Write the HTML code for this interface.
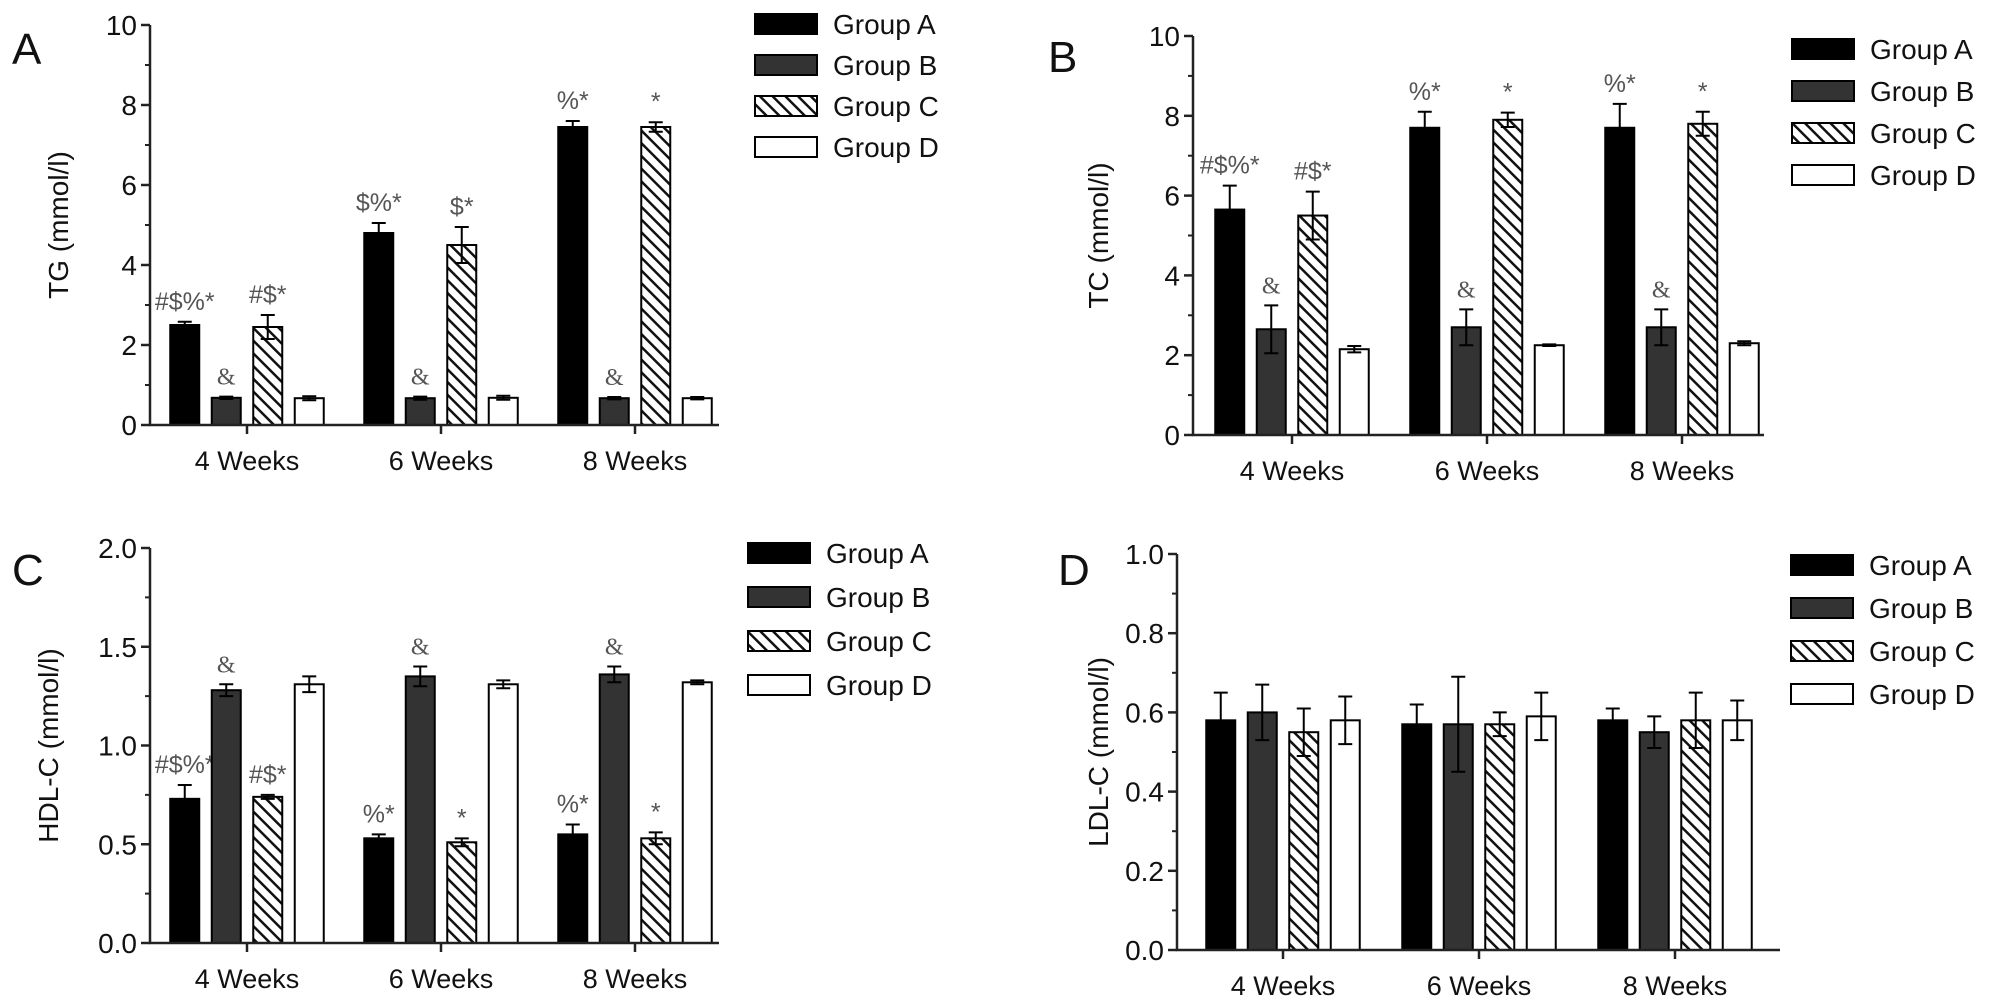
<!DOCTYPE html>
<html><head><meta charset="utf-8"><style>
html,body{margin:0;padding:0;background:#fff;}
svg{display:block;font-family:"Liberation Sans",sans-serif;}
</style></head><body>
<svg id="fig" width="2008" height="1003" viewBox="0 0 2008 1003">
<defs>
<pattern id="hatch" patternUnits="userSpaceOnUse" width="9" height="9" patternTransform="rotate(-45)">
<rect width="9" height="9" fill="#fff"/><line x1="0" y1="0" x2="0" y2="9" stroke="#111" stroke-width="5"/>
</pattern>
</defs>
</svg>
<script>
const categories = ["4 Weeks","6 Weeks","8 Weeks"];
const groups = ["Group A","Group B","Group C","Group D"];
// Panel A: TG
const tgMeans = [[2.5,0.68,2.45,0.67],[4.8,0.67,4.5,0.68],[7.45,0.67,7.45,0.67]];
const tgErr = [[0.08,0.03,0.3,0.05],[0.25,0.04,0.45,0.05],[0.15,0.03,0.12,0.03]];
const tgNotes = [["#$%*","&","#$*",""],["$%*","&","$*",""],["%*","&","*",""]];
const tgTicks = [0,2,4,6,8,10];
// Panel B: TC
const tcMeans = [[5.65,2.65,5.5,2.15],[7.7,2.7,7.9,2.25],[7.7,2.7,7.8,2.3]];
const tcErr = [[0.6,0.6,0.6,0.08],[0.4,0.45,0.18,0.02],[0.6,0.45,0.3,0.05]];
const tcNotes = [["#$%*","&","#$*",""],["%*","&","*",""],["%*","&","*",""]];
const tcTicks = [0,2,4,6,8,10];
// Panel C: HDL-C
const hdlMeans = [[0.73,1.28,0.74,1.31],[0.53,1.35,0.51,1.31],[0.55,1.36,0.53,1.32]];
const hdlErr = [[0.07,0.03,0.01,0.04],[0.02,0.05,0.02,0.02],[0.05,0.04,0.03,0.01]];
const hdlNotes = [["#$%*","&","#$*",""],["%*","&","*",""],["%*","&","*",""]];
const hdlTicks = ["0.0","0.5","1.0","1.5","2.0"];
// Panel D: LDL-C
const ldlMeans = [[0.58,0.60,0.55,0.58],[0.57,0.57,0.57,0.59],[0.58,0.55,0.58,0.58]];
const ldlErr = [[0.07,0.07,0.06,0.06],[0.05,0.12,0.03,0.06],[0.03,0.04,0.07,0.05]];
const ldlNotes = [["","","",""],["","","",""],["","","",""]];
const ldlTicks = ["0.0","0.2","0.4","0.6","0.8","1.0"];

const NS="http://www.w3.org/2000/svg";
const svg=document.getElementById('fig');
const fills=["#000","#333","url(#hatch)","#fff"];
function mk(tag,attrs,parent,txt){const e=document.createElementNS(NS,tag);for(const k in attrs)e.setAttribute(k,attrs[k]);if(txt!==undefined)e.textContent=txt;(parent||svg).appendChild(e);return e;}

function panel(cfg){
  const g=mk('g',{});
  
  
  const ymax=cfg.ymax;
  const y=v=>cfg.y0-(v/ymax)*(cfg.y0-cfg.yTop);
  const gx=i=>cfg.x0+cfg.off+cfg.step*i;
  const barW=29, barStep=41.5;
  const bx=(i,j)=>gx(i)+(j-1.5)*barStep-barW/2;
  // letter
  const L=mk('text',{x:cfg.lx,y:cfg.ly,'font-size':44,fill:'#111'},g,cfg.key.toUpperCase());
  
  
  // bars
  cfg.means.forEach((row,i)=>row.forEach((m,j)=>{
    const r=mk('rect',{x:bx(i,j),y:y(m),width:barW,height:cfg.y0-y(m),fill:fills[j],stroke:'#000','stroke-width':2},g);
    
    
    const cx=bx(i,j)+barW/2, e=cfg.err[i][j];
    const eb=mk('path',{d:`M${cx},${y(m-e)}V${y(m+e)}M${cx-7},${y(m+e)}H${cx+7}M${cx-7},${y(m-e)}H${cx+7}`,stroke:'#000','stroke-width':2,fill:'none'},g);
    
    
    const n=cfg.notes[i][j];
    if(n){
      const t=mk('text',{x:cx,y:y(m+e)-12,'text-anchor':'middle','font-size':n==='&'?24:25,fill:'#555','font-family':n==='&'?'"Liberation Serif",serif':'"Liberation Sans",sans-serif'},g,n);
      
      
    }
  }));
  // axes
  const ax=mk('path',{d:`M${cfg.x0},${cfg.yTop}V${cfg.y0}H${cfg.x1}`,stroke:'#222','stroke-width':2.5,fill:'none'},g);
  
  
  const nT=cfg.ticks.length-1;
  cfg.ticks.forEach((lab,k)=>{
    const v=ymax*k/nT, yy=y(v);
    mk('line',{x1:cfg.x0-9,x2:cfg.x0,y1:yy,y2:yy,stroke:'#222','stroke-width':2.5},g);
    if(k<nT){const ym=y(v+ymax/nT/2);mk('line',{x1:cfg.x0-5,x2:cfg.x0,y1:ym,y2:ym,stroke:'#222','stroke-width':2},g);}
    const t=mk('text',{x:cfg.x0-13,y:yy+10,'text-anchor':'end','font-size':28,fill:'#111'},g,lab);
    
    
  });
  categories.forEach((c,i)=>{
    mk('line',{x1:gx(i),x2:gx(i),y1:cfg.y0,y2:cfg.y0+9,stroke:'#222','stroke-width':2.5},g);
    const t=mk('text',{x:gx(i),y:cfg.y0+45,'text-anchor':'middle','font-size':27,fill:'#111'},g,c);
    
    
  });
  const yt=mk('text',{x:0,y:0,'text-anchor':'middle','font-size':28,fill:'#111',transform:`translate(${cfg.tx},${(cfg.y0+cfg.yTop)/2}) rotate(-90)`},g,cfg.title);
  
  
  // legend
  groups.forEach((gn,j)=>{
    const ly=cfg.legY+j*cfg.legStep;
    const s=mk('rect',{x:cfg.legX,y:ly-10,width:62,height:20,fill:fills[j],stroke:'#000','stroke-width':2},g);
    
    
    const t=mk('text',{x:cfg.legX+78,y:ly+10,'font-size':28,fill:'#111'},g,gn);
    
    
  });
}
panel({key:'a',means:tgMeans,err:tgErr,notes:tgNotes,ticks:tgTicks,ymax:10,x0:150,x1:719,y0:425,yTop:25,off:97,step:194,lx:12,ly:64,tx:68,title:"TG (mmol/l)",legX:755,legY:24,legStep:41});
panel({key:'b',means:tcMeans,err:tcErr,notes:tcNotes,ticks:tcTicks,ymax:10,x0:1193,x1:1764,y0:435,yTop:36,off:99,step:195,lx:1048,ly:72,tx:1108,title:"TC (mmol/l)",legX:1792,legY:49,legStep:42});
panel({key:'c',means:hdlMeans,err:hdlErr,notes:hdlNotes,ticks:hdlTicks,ymax:2,x0:150,x1:719,y0:943,yTop:548,off:97,step:194,lx:12,ly:585,tx:58,title:"HDL-C (mmol/l)",legX:748,legY:553,legStep:44});
panel({key:'d',means:ldlMeans,err:ldlErr,notes:ldlNotes,ticks:ldlTicks,ymax:1,x0:1177,x1:1780,y0:950,yTop:554,off:106,step:196,lx:1058,ly:585,tx:1108,title:"LDL-C (mmol/l)",legX:1791,legY:565,legStep:43});
</script>
</body></html>
